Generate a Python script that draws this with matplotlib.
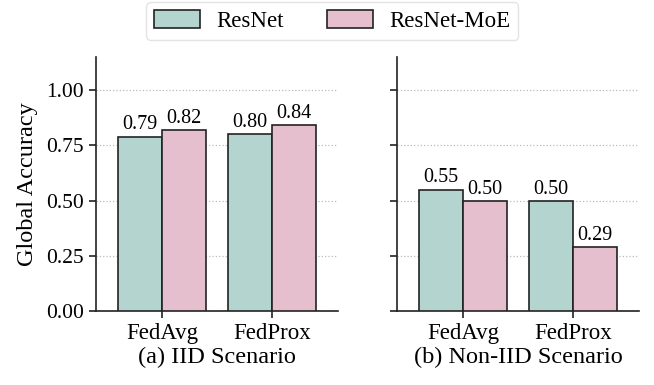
import matplotlib.pyplot as plt
import numpy as np
from matplotlib.patches import Patch

plt.rcParams['font.family'] = ['Liberation Serif', 'DejaVu Serif']

# accuracy values per method
methods = ['FedAvg', 'FedProx']
models = ['ResNet', 'ResNet-MoE']
iid_acc = {'ResNet': [0.79, 0.80], 'ResNet-MoE': [0.82, 0.84]}
noniid_acc = {'ResNet': [0.55, 0.50], 'ResNet-MoE': [0.50, 0.29]}
panel_titles = ['(a) IID Scenario', '(b) Non-IID Scenario']

colors = {'ResNet': '#b4d4d0', 'ResNet-MoE': '#e6bfcf'}
width = 0.4

fig = plt.figure(figsize=(6.54, 3.85), dpi=100)
ax1 = fig.add_axes([0.1468, 0.192, 0.37, 0.66])
ax2 = fig.add_axes([0.607, 0.192, 0.37, 0.66])

x = np.arange(len(methods))
for ax, data, title in zip([ax1, ax2], [iid_acc, noniid_acc], panel_titles):
    for i, m in enumerate(models):
        offs = (i - 0.5) * width
        bars = ax.bar(x + offs, data[m], width, color=colors[m],
                      edgecolor='#222222', linewidth=1.2, zorder=3)
        for b, v in zip(bars, data[m]):
            ax.annotate(f'{v:.2f}', (b.get_x() + b.get_width() / 2, v),
                        xytext=(0, 1.5), textcoords='offset points',
                        ha='center', va='bottom', fontsize=14.5)
    ax.set_xticks(x)
    ax.set_xticklabels(methods, fontsize=16.5)
    ax.set_xlim(-0.6, 1.6)
    ax.set_ylim(0, 1.15)
    ax.set_yticks([0, 0.25, 0.5, 0.75, 1.0])
    ax.yaxis.grid(True, ls=':', color='#bbbbbb', lw=0.9, zorder=0)
    ax.set_axisbelow(True)
    ax.spines['top'].set_visible(False)
    ax.spines['right'].set_visible(False)
    for s in ['left', 'bottom']:
        ax.spines[s].set_color('#222222')
        ax.spines[s].set_linewidth(1.2)
    ax.tick_params(direction='out', length=5, width=1.2, color='#222222')
    ax.tick_params(axis='y', labelsize=15.5)
    ax.set_xlabel(title, fontsize=17.5, labelpad=2)

ax1.set_yticklabels(['0.00', '0.25', '0.50', '0.75', '1.00'])
ax2.set_yticklabels([])
ax1.set_ylabel('Global Accuracy', fontsize=17.5, labelpad=6)

handles = [Patch(facecolor=colors[m], edgecolor='#222222', linewidth=1.2, label=m)
           for m in models]
fig.legend(handles=handles, loc='upper center', bbox_to_anchor=(0.508, 1.0),
           ncol=2, fontsize=16.5, frameon=True, handlelength=2.0,
           handleheight=0.8, columnspacing=1.9, handletextpad=0.7,
           edgecolor='#dddddd', fancybox=True, borderpad=0.35,
           borderaxespad=0.1)

fig.savefig('out.png', dpi=100)
